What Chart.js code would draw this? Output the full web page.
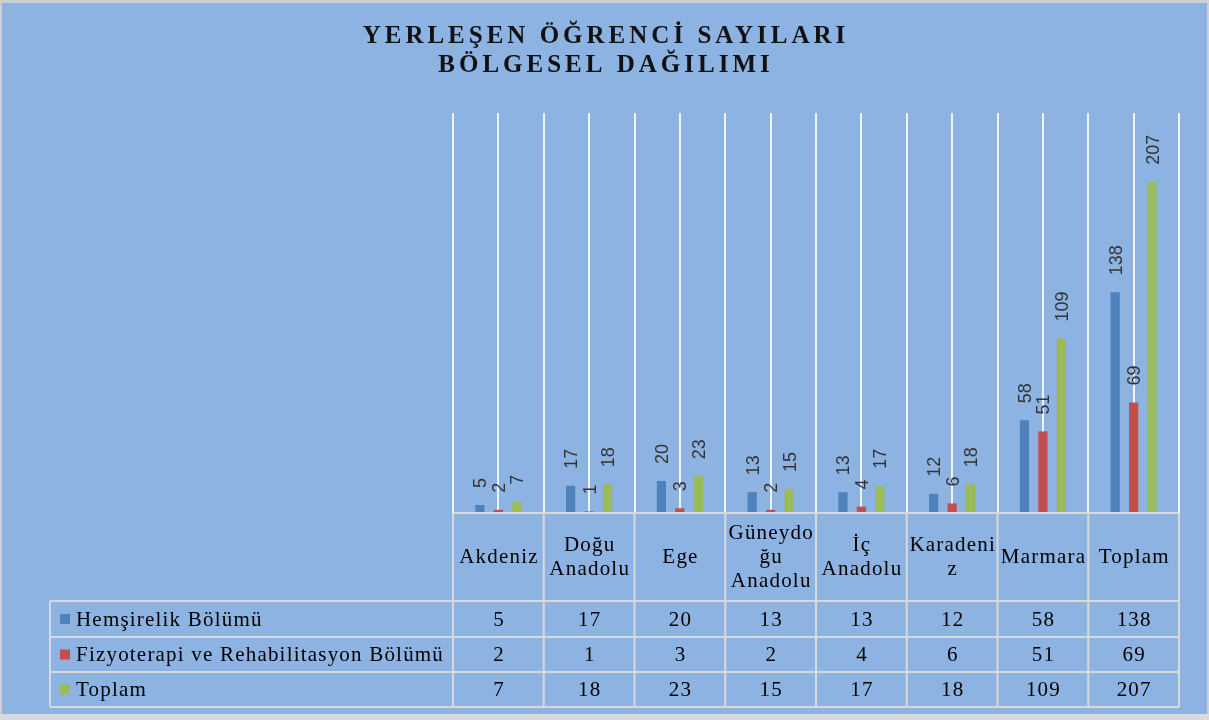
<!DOCTYPE html>
<html><head><meta charset="utf-8">
<script src="https://cdn.jsdelivr.net/npm/chart.js@4/dist/chart.umd.min.js"></script>
<style>html,body{margin:0;padding:0;background:#fff;overflow:hidden}canvas{display:block}</style>
</head><body><canvas id="c" width="1209" height="720"></canvas>
<script>
const categories = [["Akdeniz"],["Doğu","Anadolu"],["Ege"],["Güneydo","ğu","Anadolu"],["İç","Anadolu"],["Karadeni","z"],["Marmara"],["Toplam"]];
const seriesNames = ["Hemşirelik Bölümü","Fizyoterapi ve Rehabilitasyon Bölümü","Toplam"];
const hemsirelik = [5,17,20,13,13,12,58,138];
const fizyoterapi = [2,1,3,2,4,6,51,69];
const toplam = [7,18,23,15,17,18,109,207];
const seriesColors = ["#4F81BD","#C0504D","#9BBB59"];
const titleLines = ["YERLEŞEN ÖĞRENCİ SAYILARI","BÖLGESEL DAĞILIMI"];

const BG = "#8DB3E2";
const TABLE_LINE = "#D9D9D9";

const bgPlugin = {
  id: 'bg',
  beforeDraw(chart) {
    const ctx = chart.ctx;
    ctx.save();
    ctx.fillStyle = BG;
    ctx.fillRect(0, 0, chart.width, chart.height);
    ctx.restore();
    try { ctx.letterSpacing = '4px'; } catch (e) {}
  },
  beforeDatasetsDraw(chart) {
    try { chart.ctx.letterSpacing = '0px'; } catch (e) {}
  }
};

const labelPlugin = {
  id: 'barLabels',
  afterDatasetsDraw(chart) {
    const ctx = chart.ctx;
    ctx.save();
    ctx.font = '18px "Liberation Sans", Arial, sans-serif';
    ctx.fillStyle = '#333333';
    chart.data.datasets.forEach((ds, i) => {
      const meta = chart.getDatasetMeta(i);
      meta.data.forEach((bar, j) => {
        ctx.save();
        ctx.translate(bar.x + 1.5, bar.y - 17);
        ctx.rotate(-Math.PI / 2);
        ctx.textAlign = 'left';
        ctx.textBaseline = 'middle';
        ctx.fillText(String(ds.data[j]), 0, 0);
        ctx.restore();
      });
    });
    ctx.restore();
  }
};

const tablePlugin = {
  id: 'dataTable',
  afterDraw(chart) {
    const ctx = chart.ctx;
    const xs = chart.scales.x;
    const area = chart.chartArea;
    const n = chart.data.labels.length;
    const cw = (area.right - area.left) / n;
    const top = area.bottom;
    const rows = [601, 637, 672, 707];
    const leftX = 50;
    ctx.save();
    ctx.strokeStyle = TABLE_LINE;
    ctx.lineWidth = 2;
    ctx.beginPath();
    ctx.moveTo(area.left, top); ctx.lineTo(area.right, top);
    rows.forEach(y => { ctx.moveTo(leftX, y); ctx.lineTo(area.right, y); });
    for (let i = 0; i <= n; i++) {
      const x = area.left + i * cw;
      ctx.moveTo(x, top); ctx.lineTo(x, rows[rows.length - 1]);
    }
    ctx.moveTo(leftX, rows[0]); ctx.lineTo(leftX, rows[rows.length - 1]);
    ctx.stroke();

    try { ctx.letterSpacing = '1.2px'; } catch (e) {}
    ctx.font = '21px "Liberation Serif", "Times New Roman", serif';
    ctx.fillStyle = '#000';
    ctx.textBaseline = 'middle';
    ctx.textAlign = 'center';
    const hc = (top + rows[0]) / 2;
    const lh = 24;
    chart.data.labels.forEach((lab, i) => {
      const lines = Array.isArray(lab) ? lab : [lab];
      const cx = xs.getPixelForValue(i) + 0.6;
      const y0 = hc - (lines.length - 1) * lh / 2;
      lines.forEach((t, k) => ctx.fillText(t, cx, y0 + k * lh));
    });
    chart.data.datasets.forEach((ds, r) => {
      const cy = (rows[r] + rows[r + 1]) / 2 + 1;
      ds.data.forEach((v, i) => {
        ctx.fillText(String(v), xs.getPixelForValue(i) + 0.6, cy);
      });
      ctx.fillStyle = ds.backgroundColor;
      ctx.fillRect(60, cy - 6, 10, 10);
      ctx.fillStyle = '#000';
      ctx.textAlign = 'left';
      ctx.fillText(ds.label, 76, cy);
      ctx.textAlign = 'center';
    });
    try { ctx.letterSpacing = '0px'; } catch (e) {}
    ctx.fillStyle = '#CFCFCF';
    ctx.fillRect(0, 0, chart.width, 3);
    ctx.fillRect(0, 0, 2, chart.height);
    ctx.fillRect(chart.width - 2, 0, 2, chart.height);
    ctx.fillStyle = '#DADADA';
    ctx.fillRect(0, chart.height - 6, chart.width, 6);
    ctx.restore();
  }
};

new Chart(document.getElementById('c'), {
  type: 'bar',
  data: {
    labels: categories,
    datasets: [
      { label: seriesNames[0], data: hemsirelik, backgroundColor: seriesColors[0] },
      { label: seriesNames[1], data: fizyoterapi, backgroundColor: seriesColors[1] },
      { label: seriesNames[2], data: toplam, backgroundColor: seriesColors[2] }
    ]
  },
  options: {
    responsive: false,
    animation: false,
    devicePixelRatio: 1,
    layout: { padding: { left: 33, right: 30, top: 0, bottom: 207 } },
    datasets: { bar: { categoryPercentage: 0.61, barPercentage: 0.5 } },
    plugins: {
      legend: { display: false },
      tooltip: { enabled: false },
      title: {
        display: true,
        text: titleLines,
        color: '#111',
        font: { family: '"Liberation Serif", "Times New Roman", serif', size: 25, weight: 'bold', lineHeight: 1.16 },
        padding: { top: 22.5, bottom: 32.5 }
      }
    },
    scales: {
      x: {
        offset: true,
        grid: { display: true, offset: true, color: '#F0F4FA', lineWidth: 2, drawTicks: false },
        border: { display: false },
        ticks: { display: false }
      },
      x2: {
        type: 'category',
        position: 'bottom',
        offset: true,
        grid: { display: true, offset: false, color: '#F0F4FA', lineWidth: 2, drawTicks: false },
        border: { display: false },
        ticks: { display: false }
      },
      y: {
        min: 0, max: 250,
        display: true,
        grid: { display: false },
        border: { display: false },
        ticks: { display: false },
        afterFit(scale) { scale.width = 420; }
      }
    }
  },
  plugins: [bgPlugin, labelPlugin, tablePlugin]
});
</script>
</body></html>
